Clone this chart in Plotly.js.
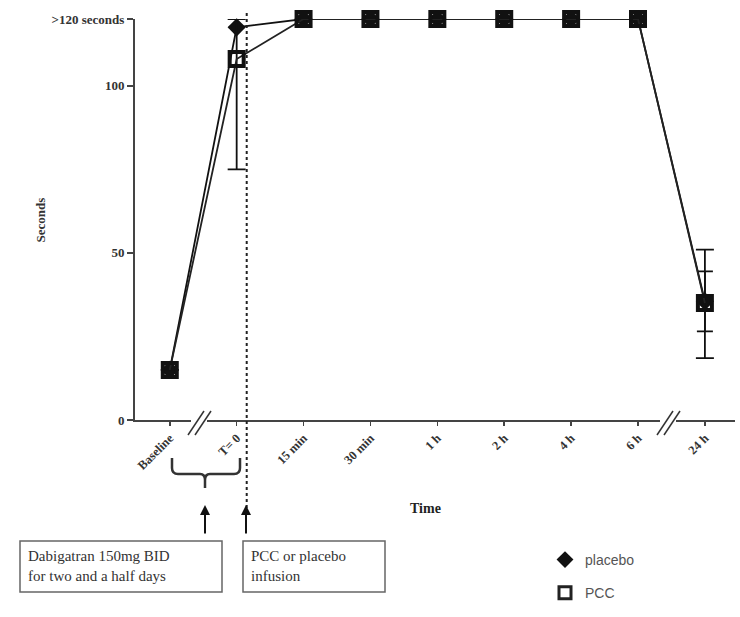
<!DOCTYPE html>
<html>
<head>
<meta charset="utf-8">
<script src="https://cdn.plot.ly/plotly-3.0.1.min.js"></script>
<style>html,body{margin:0;padding:0;background:#fff;}#chart{width:740px;height:617px;}</style>
</head>
<body>
<div id="chart"></div>
<script>
// ---- data ----
const timeLabels = ["Baseline", "T= 0", "15 min", "30 min", "1 h", "2 h", "4 h", "6 h", "24 h"];
const timeIndex = [0, 1, 2, 3, 4, 5, 6, 7, 8];
const placeboValues = [15, 117.5, 120, 120, 120, 120, 120, 120, 35.5];
const placeboErrPlus = [0, 0, 0, 0, 0, 0, 0, 0, 9];
const placeboErrMinus = [0, 0, 0, 0, 0, 0, 0, 0, 9];
const pccValues = [15, 108, 120, 120, 120, 120, 120, 120, 35];
const pccErrPlus = [0, 12, 0, 0, 0, 0, 0, 0, 16];
const pccErrMinus = [0, 33, 0, 0, 0, 0, 0, 0, 16.5];
const yTickVals = [0, 50, 100, 120];
const yTickText = ["0", "50", "100", ">120 seconds"];
const infusionTime = 1.15;

// ---- layout helpers (pixel -> paper) ----
const L = 135, W = 600, T = 19, H = 401;
const px = p => (p - L) / W;
const py = p => (T + H - p) / H;
const serif = "Liberation Serif, Times New Roman, serif";

const placeboMarker = {symbol: "diamond", size: 14, color: "#111"};
const pccMarker = {symbol: "square-open", size: 14, color: "#111", line: {width: 4, color: "#111"}};

const traces = [
  {
    x: timeIndex, y: placeboValues, name: "placebo", type: "scatter", mode: "lines+markers", showlegend: false,
    line: {color: "#111", width: 1.8},
    marker: placeboMarker,
    error_y: {type: "data", array: placeboErrPlus, arrayminus: placeboErrMinus, color: "#111", thickness: 1.8, width: 8},
    cliponaxis: false
  },
  {
    x: timeIndex, y: pccValues, name: "PCC", type: "scatter", mode: "lines+markers", showlegend: false,
    line: {color: "#222", width: 1.8},
    marker: pccMarker,
    error_y: {type: "data", array: pccErrPlus, arrayminus: pccErrMinus, color: "#111", thickness: 1.8, width: 9},
    cliponaxis: false
  },
  // legend entries (markers only, as in the reference)
  {x: [null], y: [null], name: "placebo", type: "scatter", mode: "markers", marker: {symbol: "diamond", size: 13, color: "#111"}, legendgroup: "a"},
  {x: [null], y: [null], name: "PCC", type: "scatter", mode: "markers", marker: {symbol: "square-open", size: 12, color: "#222", line: {width: 3, color: "#222"}}, legendgroup: "b"}
];

function breakMark(cx) {
  return [
    {type: "rect", xref: "paper", yref: "paper", x0: px(cx - 10), x1: px(cx + 6), y0: py(424), y1: py(416), fillcolor: "#fff", line: {width: 0}, layer: "above"},
    {type: "line", xref: "paper", yref: "paper", x0: px(cx - 13), y0: py(435), x1: px(cx + 3), y1: py(411), line: {color: "#333", width: 1.5}},
    {type: "line", xref: "paper", yref: "paper", x0: px(cx - 6), y0: py(435), x1: px(cx + 10), y1: py(411), line: {color: "#333", width: 1.5}}
  ];
}

const shapes = [
  {type: "line", xref: "x", yref: "paper", x0: infusionTime, x1: infusionTime, y0: py(508), y1: py(10), line: {color: "#222", width: 2, dash: "dot"}},
  // brace
  {type: "path", xref: "paper", yref: "paper",
   path: `M ${px(172)} ${py(458)} L ${px(172)} ${py(468)} Q ${px(172)} ${py(474)} ${px(178)} ${py(474)} L ${px(200)} ${py(474)} Q ${px(205)} ${py(474)} ${px(205)} ${py(480)} L ${px(205)} ${py(488)} M ${px(205)} ${py(480)} Q ${px(205)} ${py(474)} ${px(210)} ${py(474)} L ${px(234)} ${py(474)} Q ${px(240)} ${py(474)} ${px(240)} ${py(468)} L ${px(240)} ${py(458)}`,
   line: {color: "#333", width: 2.5}},
  // boxes
  {type: "rect", xref: "paper", yref: "paper", x0: px(20), x1: px(222), y0: py(541), y1: py(592), line: {color: "#666", width: 1.5}},
  {type: "rect", xref: "paper", yref: "paper", x0: px(243), x1: px(385), y0: py(541), y1: py(592), line: {color: "#666", width: 1.5}}
].concat(breakMark(201), breakMark(670));

const annotations = [
  {xref: "paper", yref: "paper", x: px(30), y: py(220), text: "<b>Seconds</b>", showarrow: false, textangle: -90, font: {family: serif, size: 13, color: "#333"}},
  {xref: "paper", yref: "paper", x: px(425), y: py(508), yanchor: "middle", text: "<b>Time</b>", showarrow: false, font: {family: serif, size: 14, color: "#222"}},
  {xref: "paper", yref: "paper", x: px(205), y: py(505), ax: 0, ay: 30, text: "", showarrow: true, arrowhead: 2, arrowsize: 1, arrowwidth: 2, arrowcolor: "#111"},
  {xref: "paper", yref: "paper", x: px(246), y: py(505), ax: 0, ay: 30, text: "", showarrow: true, arrowhead: 2, arrowsize: 1, arrowwidth: 2, arrowcolor: "#111"},
  {xref: "paper", yref: "paper", x: px(26), y: py(566), xanchor: "left", yanchor: "middle", align: "left", showarrow: false,
   text: "Dabigatran 150mg BID<br>for two and a half days", font: {family: serif, size: 15, color: "#333"}},
  {xref: "paper", yref: "paper", x: px(249), y: py(566), xanchor: "left", yanchor: "middle", align: "left", showarrow: false,
   text: "PCC or placebo<br>infusion", font: {family: serif, size: 15, color: "#333"}}
];

const layout = {
  width: 740, height: 617,
  margin: {l: L, r: 740 - L - W, t: T, b: 617 - T - H},
  paper_bgcolor: "#fff", plot_bgcolor: "#fff",
  showlegend: true,
  legend: {x: px(545), y: py(544), xanchor: "left", yanchor: "top", itemwidth: 30, tracegroupgap: 12,
           font: {family: "Liberation Sans, Arial, sans-serif", size: 14, color: "#555"}, bgcolor: "rgba(0,0,0,0)"},
  xaxis: {
    range: [-0.52, 8.45], tickvals: timeIndex, ticktext: timeLabels, tickangle: -45,
    showline: true, linecolor: "#444", linewidth: 2, ticks: "outside", ticklen: 4, tickcolor: "#444", tickwidth: 1.5,
    showgrid: false, zeroline: false, tickfont: {family: serif, size: 12.5, color: "#333", weight: "bold"}
  },
  yaxis: {
    range: [0, 120], tickvals: yTickVals, ticktext: yTickText,
    showline: true, linecolor: "#444", linewidth: 2, ticks: "outside", ticklen: 6, tickcolor: "#444", tickwidth: 1.5,
    showgrid: false, zeroline: false, tickfont: {family: serif, size: 13, color: "#333", weight: "bold"}
  },
  shapes: shapes,
  annotations: annotations
};

Plotly.newPlot("chart", traces, layout, {displayModeBar: false, staticPlot: true});
</script>
</body>
</html>
